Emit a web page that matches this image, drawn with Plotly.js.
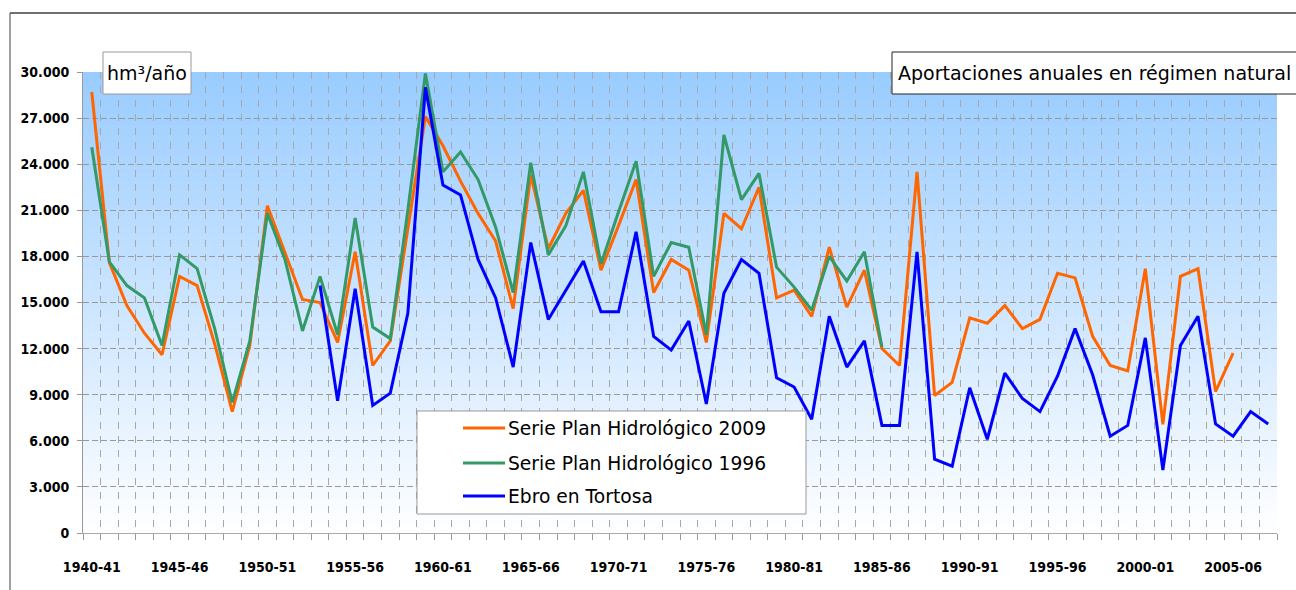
<!DOCTYPE html>
<html>
<head>
<meta charset="utf-8">
<script src="https://cdn.plot.ly/plotly-3.0.1.min.js"></script>
<style>html,body{margin:0;padding:0;background:#fff;}#chart{width:1296px;height:590px;}</style>
</head>
<body>
<div id="chart"></div>
<script>
// ---- data ----
const years = ["1940-41","1941-42","1942-43","1943-44","1944-45","1945-46","1946-47","1947-48","1948-49","1949-50",
"1950-51","1951-52","1952-53","1953-54","1954-55","1955-56","1956-57","1957-58","1958-59","1959-60",
"1960-61","1961-62","1962-63","1963-64","1964-65","1965-66","1966-67","1967-68","1968-69","1969-70",
"1970-71","1971-72","1972-73","1973-74","1974-75","1975-76","1976-77","1977-78","1978-79","1979-80",
"1980-81","1981-82","1982-83","1983-84","1984-85","1985-86","1986-87","1987-88","1988-89","1989-90",
"1990-91","1991-92","1992-93","1993-94","1994-95","1995-96","1996-97","1997-98","1998-99","1999-00",
"2000-01","2001-02","2002-03","2003-04","2004-05","2005-06","2006-07","2007-08"];
const tickLabels = ["1940-41","1945-46","1950-51","1955-56","1960-61","1965-66","1970-71","1975-76","1980-81","1985-86","1990-91","1995-96","2000-01","2005-06"];

const serie2009 = [28700,17600,14800,13000,11600,16700,16100,12300,7900,12200,
21300,18300,15200,15000,12400,18300,10900,12500,19800,27100,
25200,22900,20800,19000,14600,23300,18500,20800,22300,17100,
20000,23000,15650,17800,17100,12400,20800,19800,22500,15300,
15800,14100,18600,14700,17100,12000,10900,23500,8950,9800,
14000,13650,14800,13300,13900,16900,16600,12800,10900,10550,
17200,7070,16700,17200,9200,11700];

const serie1996 = [25100,17650,16100,15300,12200,18100,17200,13300,8500,12500,
20800,17800,13150,16700,12900,20500,13400,12650,21000,29900,
23500,24800,23000,19900,15650,24100,18100,20000,23500,17500,
20900,24200,16700,18900,18600,12900,25900,21700,23400,17300,
16000,14500,18000,16400,18300,12100];

const ebroTortosa = [null,null,null,null,null,null,null,null,null,null,
null,null,null,16100,8600,15900,8300,9100,14300,29000,
22650,22000,17800,15300,10800,18900,13900,15800,17700,14400,
14400,19600,12800,11900,13800,8400,15600,17800,16900,10100,
9500,7400,14100,10800,12500,7000,7000,18300,4800,4350,
9450,6100,10400,8750,7900,10200,13300,10300,6300,7000,
12700,4100,12200,14100,7100,6300,7900,7100];

const seriesNames = ["Serie Plan Hidrológico 2009","Serie Plan Hidrológico 1996","Ebro en Tortosa"];
const seriesColors = ["#FF6600","#339966","#0000FF"];
const seriesData = [serie2009, serie1996, ebroTortosa];
const unitLabel = "hm³/año";
const chartLabel = "Aportaciones anuales en régimen natural";

// ---- geometry (pixels) ----
const W = 1296, H = 590;
const L = 83, R = 1277, T = 72, B = 533;
const pw = R - L, ph = B - T;
const px = x => (x - L) / pw;
const py = y => (B - y) / ph;

// gradient background image
const cv = document.createElement('canvas');
cv.width = 4; cv.height = 400;
const ctx = cv.getContext('2d');
const g = ctx.createLinearGradient(0, 0, 0, 400);
g.addColorStop(0, '#99CCFF');
g.addColorStop(1, '#FFFFFF');
ctx.fillStyle = g; ctx.fillRect(0, 0, 4, 400);
const gradURL = cv.toDataURL('image/png');

const idx = years.map((_, i) => i);
const traces = seriesData.map((d, k) => ({
  x: idx.slice(0, d.length), y: d, type: 'scatter', mode: 'lines',
  name: seriesNames[k], line: {color: seriesColors[k], width: 3}, connectgaps: false,
  hoverinfo: 'skip', showlegend: false
}));

const tickIdx = tickLabels.map(t => years.indexOf(t));
const font = {family: 'DejaVu Sans, sans-serif', color: '#000'};
const tickFont = {family: 'DejaVu Sans Condensed, DejaVu Sans, sans-serif', color: '#000', size: 14, weight: 'bold'};

const shapes = [
  // outer chart frame (partially outside view)
  {type: 'line', xref: 'paper', yref: 'paper', x0: px(10), x1: px(10), y0: py(13), y1: py(600), line: {color: '#404040', width: 1}},
  {type: 'line', xref: 'paper', yref: 'paper', x0: px(10), x1: px(1300), y0: py(13), y1: py(13), line: {color: '#404040', width: 1.5}},
  // unit box
  {type: 'rect', xref: 'paper', yref: 'paper', x0: px(103), x1: px(191), y0: py(52), y1: py(94), fillcolor: '#fff', line: {color: '#999', width: 1}},
  // label box
  {type: 'rect', xref: 'paper', yref: 'paper', x0: px(892), x1: px(1300), y0: py(52), y1: py(94), fillcolor: '#fff', line: {color: '#222', width: 1}},
  // legend box
  {type: 'rect', xref: 'paper', yref: 'paper', x0: px(417), x1: px(806), y0: py(411), y1: py(514), fillcolor: '#fff', line: {color: '#999', width: 1}}
];
const annotations = [
  {xref: 'paper', yref: 'paper', x: px(147), y: py(73), text: unitLabel, showarrow: false, xanchor: 'center', yanchor: 'middle', font: Object.assign({size: 19}, font)},
  {xref: 'paper', yref: 'paper', x: px(1094), y: py(73), text: chartLabel, showarrow: false, xanchor: 'center', yanchor: 'middle', font: Object.assign({size: 19}, font)}
];
const legY = [428, 463, 496];
seriesNames.forEach((n, k) => {
  shapes.push({type: 'line', xref: 'paper', yref: 'paper', x0: px(463), x1: px(505), y0: py(legY[k]), y1: py(legY[k]), line: {color: seriesColors[k], width: 3}});
  annotations.push({xref: 'paper', yref: 'paper', x: px(506), y: py(legY[k]), text: n, showarrow: false, xanchor: 'left', yanchor: 'middle', font: Object.assign({size: 18.7}, font)});
});

const layout = {
  width: W, height: H,
  margin: {l: L, r: W - R, t: T, b: H - B, pad: 0},
  paper_bgcolor: '#fff', plot_bgcolor: 'rgba(0,0,0,0)',
  separators: ',.',
  showlegend: false,
  images: [{source: gradURL, xref: 'paper', yref: 'paper', x: 0, y: 1, sizex: 1, sizey: 1, sizing: 'stretch', xanchor: 'left', yanchor: 'top', layer: 'below'}],
  xaxis: {
    type: 'linear', range: [-0.5, years.length - 0.5], fixedrange: true,
    tickmode: 'array', tickvals: tickIdx, ticktext: tickLabels, ticks: '',
    showgrid: false, zeroline: false, showline: true, linecolor: '#aaa', linewidth: 1,
    tickfont: tickFont, ticklabelstandoff: 21,
    minor: {tickmode: 'linear', tick0: -0.5, dtick: 1, ticks: 'outside', ticklen: 6, tickcolor: '#999', tickwidth: 1,
            showgrid: true, gridcolor: '#a8a8a8', gridwidth: 1, griddash: '7px,7px'}
  },
  yaxis: {
    range: [0, 30000], dtick: 3000, tick0: 0, tickformat: ',d', fixedrange: true,
    ticks: 'outside', ticklen: 5, tickcolor: '#999',
    showgrid: true, gridcolor: '#999', gridwidth: 1, griddash: '6px,3px',
    zeroline: false, showline: true, linecolor: '#999', linewidth: 1,
    tickfont: tickFont, ticklabelstandoff: 5
  },
  shapes: shapes,
  annotations: annotations
};
Plotly.newPlot('chart', traces, layout, {displayModeBar: false, staticPlot: true});
</script>
</body>
</html>
